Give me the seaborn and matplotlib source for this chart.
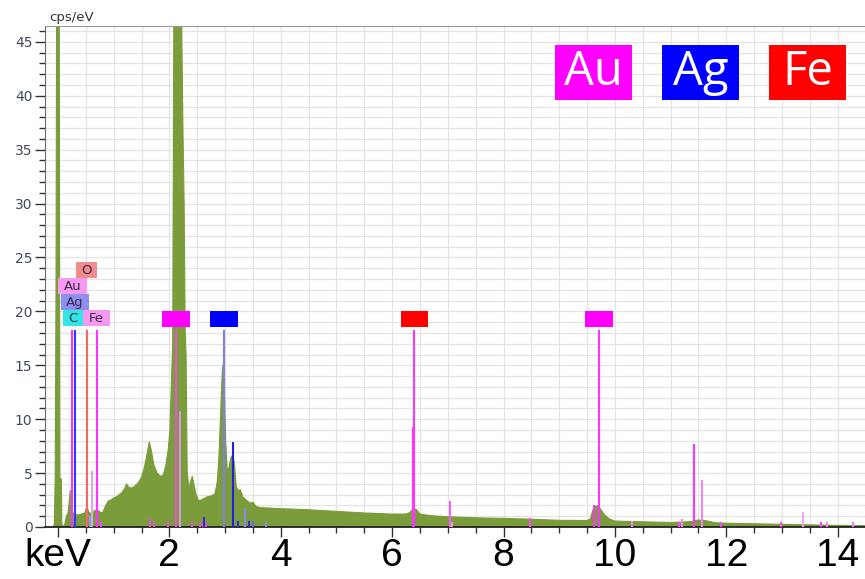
import matplotlib
matplotlib.use("Agg")
import matplotlib.pyplot as plt
from matplotlib import font_manager
from matplotlib.patches import Rectangle
from matplotlib.ticker import MultipleLocator
import seaborn as sns

# EDS spectrum: energy (keV) vs counts (cps/eV)
energy_kev = [-0.24, -0.08, -0.065, -0.05, -0.035, -0.02, 0.02, 0.035, 0.06, 0.07, 0.09,
              0.12, 0.15, 0.18, 0.20, 0.22, 0.24, 0.27, 0.31, 0.36, 0.42, 0.48, 0.52, 0.55,
              0.60, 0.65, 0.70, 0.75, 0.80, 0.85, 0.90, 0.95, 1.00, 1.05, 1.10, 1.15, 1.20,
              1.23, 1.27, 1.32, 1.38, 1.44, 1.50, 1.55, 1.60, 1.64, 1.68, 1.72, 1.78, 1.84,
              1.89, 1.94, 1.98, 2.01, 2.04, 2.06, 2.075, 2.09, 2.21, 2.225, 2.245, 2.265,
              2.285, 2.30, 2.32, 2.35, 2.38, 2.41, 2.44, 2.48, 2.53, 2.60, 2.68, 2.76, 2.82,
              2.86, 2.89, 2.92, 2.95, 2.97, 2.99, 3.01, 3.04, 3.07, 3.10, 3.14, 3.17, 3.20,
              3.24, 3.27, 3.32, 3.38, 3.45, 3.50, 3.56, 3.63, 3.80, 4.00, 4.50, 5.00, 5.50,
              6.00, 6.25, 6.32, 6.38, 6.44, 6.50, 6.70, 7.00, 7.50, 8.00, 8.50, 9.00, 9.50,
              9.56, 9.60, 9.65, 9.70, 9.75, 9.82, 9.90, 10.0, 10.5, 11.0, 11.35, 11.5, 11.62,
              11.8, 12.0, 12.5, 13.0, 13.5, 14.0, 14.5]
cps = [0, 0, 0.4, 4.5, 22, 60, 60, 4.6, 4.4, 0.3, 0,
       0.2, 1.0, 1.3, 2.2, 3.4, 1.6, 1.3, 1.2, 1.1, 1.2, 1.3, 1.9, 1.4,
       1.2, 1.5, 1.6, 1.4, 1.3, 1.9, 2.4, 2.5, 2.7, 2.8, 3.0, 3.2, 3.6,
       4.0, 3.7, 3.6, 3.8, 4.1, 4.6, 5.5, 6.8, 7.9, 7.0, 5.8, 5.0, 4.7,
       4.8, 5.8, 7.2, 9.0, 14, 17, 42, 60, 60, 45, 36.5, 30,
       18, 16, 5.2, 3.6, 4.2, 4.7, 4.0, 3.0, 2.4, 2.6, 2.8, 2.9, 3.1,
       4.2, 6.5, 10.5, 14.5, 15.2, 12.5, 8.0, 5.2, 5.5, 6.4, 6.7, 5.8, 3.8,
       3.3, 3.5, 2.8, 2.5, 2.2, 2.3, 1.9, 1.8, 1.75, 1.7, 1.6, 1.45, 1.3,
       1.2, 1.2, 1.35, 1.75, 1.6, 1.2, 1.05, 0.95, 0.85, 0.8, 0.72, 0.62, 0.6,
       0.75, 1.5, 1.9, 2.0, 1.6, 1.1, 0.75, 0.55, 0.48, 0.42, 0.5, 0.65, 0.6,
       0.4, 0.35, 0.3, 0.25, 0.2, 0.15, 0.12]

# Identified element lines (full-height markers)
peak_kev = [0.245, 0.30, 0.515, 0.695, 2.12, 2.98, 6.40, 9.71]
peak_color = ["#ff33ff", "#2a3cff", "#f06a6a", "#ff33ff", "#e455d6", "#7f7fe6", "#ff33ff", "#ff33ff"]
marker_top = 18.3

# Element tags above the main lines
tag_kev = [2.12, 2.98, 6.40, 9.71]
tag_color = ["#ff00ff", "#0000ff", "#ff0000", "#ff00ff"]

# Secondary (KLM) lines: energy, height, colour
minor_kev = [0.575, 0.61, 0.70, 0.78, 1.65, 1.73, 1.98, 2.19, 2.40, 2.55, 2.60, 2.66,
             2.62, 3.14, 3.23, 3.36, 3.43, 3.50, 3.73,
             6.38, 7.04, 7.08, 8.47, 9.62, 10.3, 11.15, 11.2, 11.42, 11.56, 11.9,
             12.98, 13.38, 13.7, 13.8, 14.27]
minor_cps = [1.0, 5.2, 4.6, 0.5, 0.8, 0.5, 0.6, 10.8, 0.6, 0.4, 0.4, 0.4,
             0.9, 7.9, 0.6, 1.8, 0.6, 0.6, 0.5,
             9.3, 2.4, 0.5, 0.8, 2.0, 0.6, 0.5, 0.7, 7.7, 4.4, 0.5,
             0.5, 1.4, 0.5, 0.5, 0.5]
minor_color = ["#8899ee", "#d9a6e6", "#ff40ff", "#ff40ff", "#e055d8", "#e055d8", "#e055d8",
               "#d99ae0", "#e055d8", "#e055d8", "#e055d8", "#e055d8",
               "#2b2bd9", "#1f1fe6", "#2b2bd9", "#8a8ae6", "#2b2bd9", "#6a6ad0", "#8a8ae6",
               "#ff33ff", "#ee66ee", "#ee99ee", "#ff44ff", "#ff33ff", "#ee88ee", "#ff44ff",
               "#ee88ee", "#ff33ff", "#ee88ee", "#ff44ff", "#ff44ff", "#eeaaee", "#ff44ff",
               "#ee88ee", "#ee88ee"]

# Low-energy line labels
low_labels = ["O", "Au", "Ag", "C", "Fe"]
low_label_color = ["#f08c8c", "#f59af0", "#8f8ff2", "#33e6e6", "#f59af0"]
low_label_span = [(0.32, 0.70), (0.00, 0.52), (0.05, 0.56), (0.09, 0.45), (0.45, 0.93)]
low_label_base = [23.1, 21.6, 20.1, 18.6, 18.6]

# Legend
legend_names = ["Au", "Ag", "Fe"]
legend_colors = ["#ff00ff", "#0000ff", "#ff0000"]

x_ticks = [0, 2, 4, 6, 8, 10, 12, 14]
x_tick_labels = ["keV", "2", "4", "6", "8", "10", "12", "14"]

sns.set_style("white")

avail = {f.name for f in font_manager.fontManager.ttflist}
big_font = "Liberation Sans Narrow" if "Liberation Sans Narrow" in avail else "Liberation Sans"
tag_font = "Open Sans" if "Open Sans" in avail else "DejaVu Sans"

fig = plt.figure(figsize=(8.65, 5.79), dpi=100)
ax = fig.add_axes([45 / 865, 1 - 527 / 579, (865 - 45) / 865, (527 - 25.7) / 579])

green = "#7b9c3b"
ax.fill_between(energy_kev, cps, 0, color=green, lw=0, zorder=2)
sns.lineplot(x=energy_kev, y=cps, ax=ax, color=green, lw=0.8, zorder=2, sort=False)

# secondary lines
ax.vlines(minor_kev, 0, minor_cps, colors=minor_color, lw=1.5, zorder=3)
# main identified lines
ax.vlines(peak_kev, 0, marker_top, colors=peak_color, lw=1.5, zorder=3)

# tags over main lines
for e, c in zip(tag_kev, tag_color):
    ax.add_patch(Rectangle((e - 0.25, 18.55), 0.5, 1.5, facecolor=c, edgecolor="none", zorder=4))

# low-energy labels
for t, c, (x0, x1), y0 in zip(low_labels, low_label_color, low_label_span, low_label_base):
    ax.add_patch(Rectangle((x0, y0), x1 - x0, 1.5, facecolor=c, edgecolor="none", zorder=4))
    ax.text((x0 + x1) / 2, y0 + 0.72, t, ha="center", va="center", fontsize=9.5,
            color="#3a2a4a", zorder=5)

# legend boxes
for i, (n, c) in enumerate(zip(legend_names, legend_colors)):
    x0 = (555 + i * 107 - 45) / 820
    ax.add_patch(Rectangle((x0, 0.852), 77 / 820, 0.11, transform=ax.transAxes,
                           facecolor=c, edgecolor="none", zorder=6))
    ax.text(x0 + 38.5 / 820, 0.908, n, transform=ax.transAxes, ha="center", va="center",
            fontsize=34, color="white", family=tag_font, zorder=7)

ax.set_xlim(-0.233, 14.49)
ax.set_ylim(0, 46.5)

ax.xaxis.set_major_locator(MultipleLocator(2))
ax.xaxis.set_minor_locator(MultipleLocator(0.5))
ax.yaxis.set_major_locator(MultipleLocator(5))
ax.yaxis.set_minor_locator(MultipleLocator(1))
ax.set_xticks(x_ticks)
ax.set_xticklabels(x_tick_labels, fontsize=28, family=big_font, color="black")

ax.grid(which="both", color="#e4e4e4", lw=0.9, zorder=0)
ax.set_axisbelow(True)

ax.tick_params(axis="y", which="major", direction="out", length=7, width=1, color="#333333",
               labelsize=10, labelcolor="#3f4b58", pad=2, left=True)
ax.tick_params(axis="y", which="minor", direction="out", length=4, width=1, color="#333333", left=True)
ax.tick_params(axis="x", which="major", direction="out", length=7, width=1, color="#333333",
               pad=1, bottom=True)
ax.tick_params(axis="x", which="minor", direction="out", length=4, width=1, color="#333333", bottom=True)

ax.spines["right"].set_visible(False)
ax.spines["top"].set_color("#9a9a9a")
ax.spines["left"].set_color("#666666")
ax.spines["bottom"].set_color("#222222")
ax.spines["bottom"].set_linewidth(1.3)
ax.set_xlabel("")
ax.set_ylabel("")

ax.text(0.005, 1.003, "cps/eV", transform=ax.transAxes, ha="left", va="bottom",
        fontsize=9.5, color="#333333")

fig.savefig("out.png", dpi=100)
